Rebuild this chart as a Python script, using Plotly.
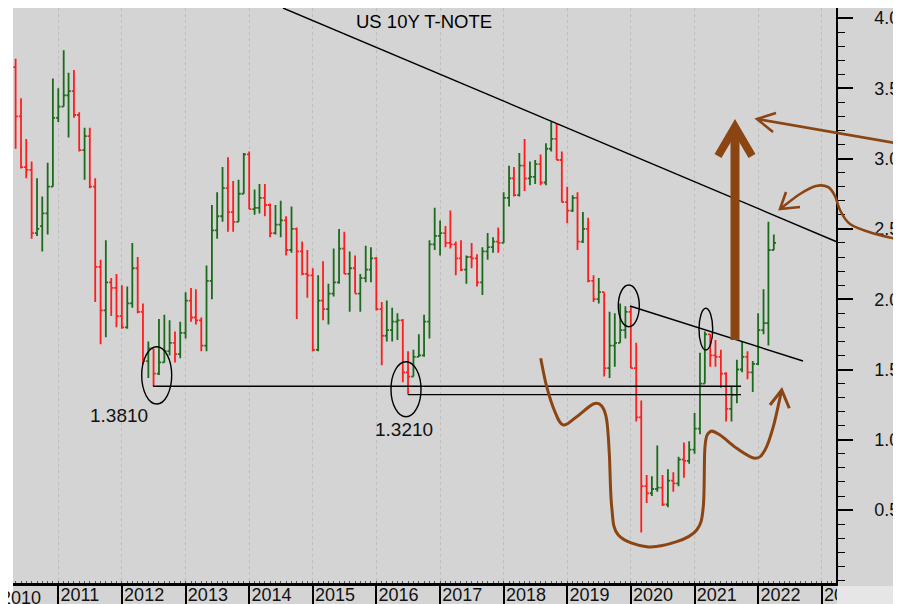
import pandas as pd
import plotly.graph_objects as go

# ---------------- data (monthly bars, US 10Y T-Note yield) ----------------
first_month = "2010-05-01"
open_ = [3.65,3.30,2.94,2.92,2.47,2.52,2.61,2.80,
         3.29,3.37,3.45,3.48,3.31,3.06,3.16,2.80,2.23,1.92,2.12,2.08,
         1.88,1.80,1.97,2.22,1.91,1.56,1.65,1.47,1.55,1.63,1.69,1.61,
         1.76,1.99,1.87,1.85,1.67,2.13,2.49,2.59,2.79,2.62,2.55,2.75,
         3.03,2.64,2.65,2.72,2.67,2.47,2.53,2.56,2.35,2.50,2.34,2.18,
         2.17,1.64,1.99,1.93,2.04,2.12,2.36,2.18,2.22,2.04,2.15,2.21,
         2.29,1.93,1.74,1.78,1.84,1.85,1.48,1.45,1.59,1.60,1.84,2.39,
         2.45,2.47,2.40,2.39,2.29,2.21,2.30,2.29,2.12,2.34,2.37,2.41,
         2.40,2.72,2.86,2.74,2.95,2.86,2.87,2.96,2.83,3.07,3.14,2.99,
         2.69,2.63,2.72,2.41,2.50,2.13,2.00,2.05,1.51,1.67,1.69,1.78,
         1.91,1.51,1.16,0.67,0.62,0.65,0.66,0.54,0.71,0.69,0.86,0.85,
         0.93,1.08,1.40,1.75,1.60,1.59,1.47,1.22,1.32,1.50,1.59,1.48,
         1.54,1.78,1.83,2.35]
high = [3.71,3.43,3.14,2.98,2.86,2.73,2.97,3.57,
        3.50,3.77,3.61,3.63,3.33,3.22,3.22,2.86,2.28,2.42,2.15,2.18,
        2.10,2.09,2.40,2.30,1.97,1.70,1.65,1.86,1.89,1.85,1.77,1.84,
        2.05,2.08,2.07,1.87,2.24,2.67,2.76,2.94,3.01,2.84,2.85,3.04,
        3.05,2.78,2.82,2.82,2.68,2.67,2.70,2.59,2.66,2.51,2.41,2.35,
        2.22,2.17,2.27,2.11,2.36,2.50,2.48,2.34,2.31,2.18,2.38,2.37,
        2.30,1.98,1.99,1.94,1.90,1.86,1.63,1.64,1.75,1.89,2.42,2.65,
        2.56,2.52,2.63,2.41,2.42,2.31,2.40,2.32,2.37,2.47,2.44,2.51,
        2.76,2.95,2.94,3.04,3.14,2.98,2.99,3.03,3.11,3.26,3.25,3.05,
        2.80,2.74,2.76,2.62,2.58,2.17,2.15,2.05,1.91,1.90,1.97,1.95,
        1.95,1.69,1.28,0.75,0.74,0.96,0.75,0.79,0.77,0.88,0.98,0.99,
        1.19,1.62,1.77,1.75,1.71,1.64,1.48,1.38,1.57,1.70,1.63,1.56,
        1.90,2.07,2.55,2.46]
low = [3.07,2.93,2.86,2.43,2.45,2.34,2.46,2.80,
       3.26,3.37,3.15,3.29,3.05,2.85,2.79,1.98,1.68,1.73,1.88,1.80,
       1.79,1.79,1.94,1.90,1.54,1.44,1.38,1.46,1.55,1.60,1.55,1.58,
       1.72,1.84,1.82,1.63,1.63,2.00,2.43,2.55,2.48,2.48,2.55,2.75,
       2.64,2.60,2.61,2.59,2.44,2.46,2.44,2.31,2.33,1.86,2.17,2.01,
       1.63,1.63,1.85,1.82,2.02,2.11,2.18,1.91,2.04,1.91,2.12,2.12,
       1.92,1.53,1.70,1.70,1.71,1.41,1.32,1.45,1.59,1.59,1.72,2.35,
       2.31,2.37,2.36,2.17,2.20,2.11,2.22,2.09,2.03,2.28,2.33,2.33,
       2.40,2.66,2.73,2.73,2.77,2.81,2.82,2.81,2.81,3.05,2.99,2.69,
       2.54,2.62,2.35,2.40,2.12,1.98,1.97,1.45,1.44,1.52,1.69,1.72,
       1.51,1.13,0.34,0.55,0.60,0.63,0.53,0.52,0.63,0.67,0.73,0.83,
       0.90,1.04,1.40,1.52,1.52,1.37,1.13,1.13,1.26,1.48,1.43,1.34,
       1.53,1.75,1.67,2.35]
close = [3.30,2.94,2.92,2.47,2.50,2.61,2.80,3.29,
         3.37,3.45,3.48,3.31,3.06,3.16,2.80,2.23,1.92,2.12,2.08,1.88,
         1.80,1.97,2.22,1.91,1.56,1.65,1.47,1.55,1.63,1.69,1.61,1.76,
         1.99,1.87,1.85,1.67,2.13,2.49,2.59,2.79,2.62,2.55,2.75,3.03,
         2.64,2.65,2.72,2.67,2.47,2.53,2.56,2.35,2.50,2.34,2.18,2.17,
         1.64,1.99,1.93,2.04,2.12,2.36,2.18,2.22,2.04,2.15,2.21,2.29,
         1.93,1.74,1.78,1.84,1.85,1.48,1.45,1.59,1.60,1.84,2.39,2.45,
         2.47,2.40,2.39,2.29,2.21,2.30,2.29,2.12,2.34,2.37,2.41,2.40,
         2.72,2.86,2.74,2.95,2.86,2.87,2.96,2.83,3.07,3.14,2.99,2.69,
         2.63,2.72,2.41,2.50,2.13,2.00,2.05,1.51,1.67,1.69,1.78,1.91,
         1.51,1.16,0.67,0.62,0.65,0.66,0.54,0.71,0.69,0.86,0.85,0.93,
         1.08,1.40,1.75,1.60,1.59,1.47,1.22,1.32,1.50,1.59,1.48,1.54,
         1.78,1.83,2.35,2.40]

years = list(range(2011, 2024))
year_labels = [str(y) for y in years]
y_ticks = [0.5, 1.0, 1.5, 2.0, 2.5, 3.0, 3.5, 4.0]
y_tick_labels = [f"{v:.1f}" for v in y_ticks]
support_levels = [1.3810, 1.3210]
title_text = "US 10Y T-NOTE"

dates = pd.date_range(first_month, periods=len(close), freq="MS")

# ---------------- layout geometry (page pixels; page body has an 8px margin) ----------------
OFF = 8
PAGE_W, PAGE_H = 901, 604
W, H = PAGE_W - OFF, PAGE_H - OFF
L, R, T, B = 13, 836, 8, 583          # plot area in page pixels


def fx(x):
    return (x - L) / (R - L)


def fy(y):
    return (B - y) / (B - T)


def P(x, y):
    return f"{fx(x):.5f},{fy(y):.5f}"


def poly(pts):
    return "M " + " L ".join(P(x, y) for x, y in pts)


def smooth(pts):
    d = "M " + P(*pts[0])
    n = len(pts)
    for i in range(n - 1):
        p0 = pts[i - 1] if i > 0 else pts[i]
        p1 = pts[i]
        p2 = pts[i + 1]
        p3 = pts[i + 2] if i + 2 < n else pts[i + 1]
        c1 = (p1[0] + (p2[0] - p0[0]) / 6, p1[1] + (p2[1] - p0[1]) / 6)
        c2 = (p2[0] - (p3[0] - p1[0]) / 6, p2[1] - (p3[1] - p1[1]) / 6)
        d += f" C {P(*c1)} {P(*c2)} {P(*p2)}"
    return d


GREEN = "#1a6b1a"
RED = "#ff1c1c"
BROWN = "#8b4513"
BG = "#d4d4d4"
FONT = "Liberation Sans, Arial, sans-serif"

fig = go.Figure(go.Ohlc(
    x=dates, open=open_, high=high, low=low, close=close,
    increasing=dict(line=dict(color=GREEN, width=1.8)),
    decreasing=dict(line=dict(color=RED, width=1.8)),
    tickwidth=0.45, hoverinfo="skip", showlegend=False,
))

shapes = []
# white left strip and lighter bottom-right corner
shapes.append(dict(type="rect", xref="paper", yref="paper", x0=fx(-5), x1=fx(L), y0=fy(PAGE_H + 5), y1=fy(-5),
                   fillcolor="white", line_width=0, layer="above"))
shapes.append(dict(type="rect", xref="paper", yref="paper", x0=fx(837), x1=fx(PAGE_W + 10), y0=fy(PAGE_H + 10), y1=fy(586),
                   fillcolor="#e6e6e6", line_width=0, layer="above"))

blk = dict(color="black", width=1.4)
# trend lines
shapes.append(dict(type="line", xref="paper", yref="paper", x0=fx(283), y0=fy(T), x1=fx(836), y1=fy(241.5), line=blk))
shapes.append(dict(type="line", xref="paper", yref="paper", x0=fx(630), y0=fy(306), x1=fx(803), y1=fy(361), line=blk))
# support levels
shapes.append(dict(type="line", xref="paper", yref="y", x0=fx(153), x1=fx(741), y0=support_levels[0], y1=support_levels[0], line=blk))
shapes.append(dict(type="line", xref="paper", yref="y", x0=fx(408), x1=fx(741), y0=support_levels[1], y1=support_levels[1], line=blk))
# ellipses
for (x0, y0, x1, y1) in [(141.7, 346.7, 171.7, 404), (391, 361.7, 421, 416.7),
                         (618.3, 285, 639.3, 326.7), (699, 308.3, 712.7, 350)]:
    shapes.append(dict(type="circle", xref="paper", yref="paper", x0=fx(x0), x1=fx(x1),
                       y0=fy(y1), y1=fy(y0), line=blk))

# brown hand drawing
squiggle = [(540.7, 358.3), (546.7, 386.7), (555, 412), (563.3, 425), (576.7, 416.7), (593.3, 404),
            (601.7, 406), (606.7, 420), (609.3, 453.3), (611.7, 506.7), (618.3, 535), (646.7, 546.7),
            (676.7, 541.7), (696.7, 530), (703.3, 506.7), (705, 446.7), (710, 431.7), (720, 435),
            (736.7, 448.3), (755, 458.3), (765, 450), (773.3, 426.7), (781.7, 390)]
shapes.append(dict(type="path", xref="paper", yref="paper", path=smooth(squiggle), line=dict(color=BROWN, width=3)))
shapes.append(dict(type="path", xref="paper", yref="paper", path=poly([(770, 405), (781.7, 390), (789.3, 408.3)]),
                   line=dict(color=BROWN, width=3)))

curve = [(901, 240), (872, 233), (850, 224), (840, 210), (835, 196), (828, 187), (816, 186), (800, 194), (780, 209)]
shapes.append(dict(type="path", xref="paper", yref="paper", path=smooth(curve), line=dict(color=BROWN, width=2.6)))
shapes.append(dict(type="path", xref="paper", yref="paper", path=poly([(786, 192), (780, 209), (800, 207)]),
                   line=dict(color=BROWN, width=2.6)))

shapes.append(dict(type="path", xref="paper", yref="paper", path=poly([(901, 144), (757, 119)]),
                   line=dict(color=BROWN, width=2.6)))
shapes.append(dict(type="path", xref="paper", yref="paper", path=poly([(776, 113), (757, 119), (773, 132)]),
                   line=dict(color=BROWN, width=2.6)))

shapes.append(dict(type="path", xref="paper", yref="paper", path=poly([(735, 340), (735, 133)]),
                   line=dict(color=BROWN, width=9)))
shapes.append(dict(type="path", xref="paper", yref="paper", path=poly([(718, 156), (735, 127), (752, 156)]),
                   line=dict(color=BROWN, width=8)))

annotations = [
    dict(text=title_text, x=fx(423.5), y=fy(22), xref="paper", yref="paper", showarrow=False,
         xanchor="center", yanchor="middle", font=dict(size=18.5, color="black", family=FONT)),
    dict(text=f"{support_levels[0]:.4f}", x=fx(119), y=fy(415), xref="paper", yref="paper", showarrow=False,
         xanchor="center", yanchor="middle", font=dict(size=19, color="#111", family=FONT)),
    dict(text=f"{support_levels[1]:.4f}", x=fx(403.5), y=fy(430), xref="paper", yref="paper", showarrow=False,
         xanchor="center", yanchor="middle", font=dict(size=19, color="#111", family=FONT)),
    dict(text="2010", x=fx(-1), y=fy(598), xref="paper", yref="paper", xanchor="left", yanchor="middle",
         showarrow=False, font=dict(size=18, color="#111", family=FONT)),
]

fig.update_layout(
    width=W, height=H, autosize=False,
    margin=dict(l=L - OFF, r=PAGE_W - R, t=T - OFF, b=PAGE_H - B, pad=0),
    paper_bgcolor=BG, plot_bgcolor=BG,
    font=dict(family=FONT, size=18, color="#111"),
    showlegend=False,
    shapes=shapes, annotations=annotations,
    xaxis=dict(
        type="date", range=["2010-04-16", "2023-03-24"],
        tickvals=[f"{y}-01-01" for y in years], ticktext=year_labels,
        ticks="outside", ticklen=18, tickwidth=1.5, tickcolor="black",
        ticklabelposition="outside right", ticklabelstandoff=-7,
        showgrid=True, gridcolor="#bdbdbd", griddash="dot", gridwidth=1,
        showline=True, linewidth=3, linecolor="black", mirror=False,
        rangeslider=dict(visible=False), zeroline=False,
        minor=dict(dtick="M1", ticks="inside", ticklen=2, tickcolor="#555", tickwidth=1, showgrid=False),
        tickfont=dict(size=18, color="#111", family=FONT),
    ),
    yaxis=dict(
        side="right", range=[4.0 - (B - 18) / 140.6, 4.0 + (18 - T) / 140.6],
        tickvals=y_ticks, ticktext=y_tick_labels,
        ticks="outside", ticklen=15, tickwidth=1.5, tickcolor="black",
        ticklabelstandoff=18,
        showgrid=False, zeroline=False,
        showline=True, linewidth=1.5, linecolor="black",
        minor=dict(dtick=0.1, tick0=0, ticks="outside", ticklen=7, tickwidth=1.2, tickcolor="black", showgrid=False),
        tickfont=dict(size=18, color="#111", family=FONT),
    ),
)

fig.write_html("out.html")
